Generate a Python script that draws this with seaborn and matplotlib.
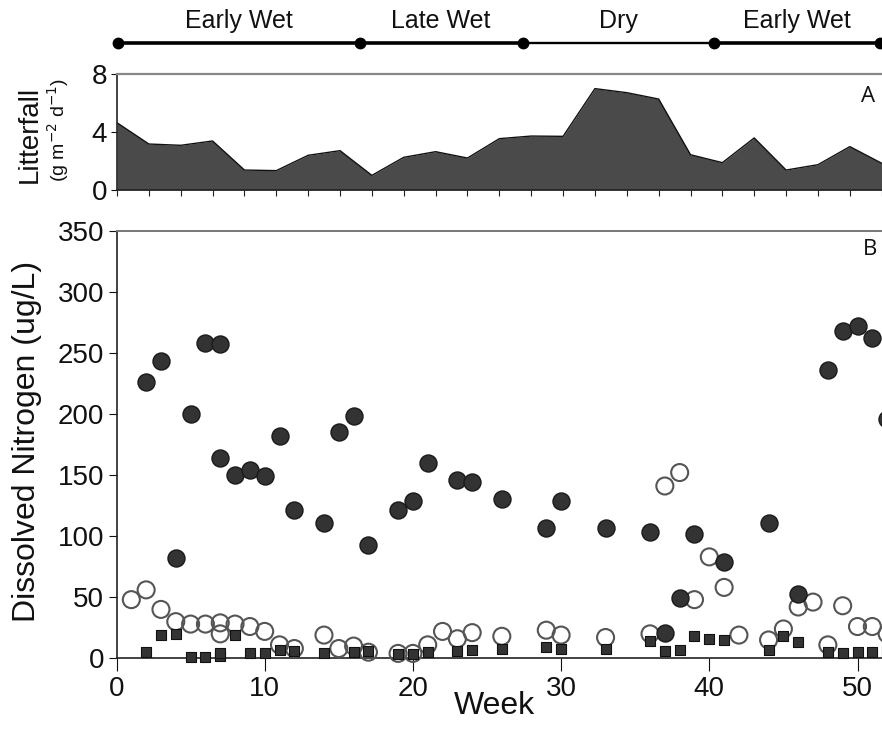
import numpy as np
import pandas as pd
import matplotlib
matplotlib.use("Agg")
import matplotlib.pyplot as plt
import seaborn as sns

sns.set_theme(style="white")
plt.rcParams['font.family'] = ['Liberation Sans', 'DejaVu Sans']

# ---------------- data ----------------
season_names = ["Early Wet", "Late Wet", "Dry", "Early Wet"]
season_bounds = [0.1, 16.4, 27.4, 40.3, 51.5]

litterfall = [4.65, 3.18, 3.09, 3.39, 1.38, 1.34, 2.40, 2.72, 1.01, 2.26, 2.65, 2.21,
              3.55, 3.73, 3.71, 7.01, 6.73, 6.29, 2.44, 1.89, 3.60, 1.38, 1.75, 3.00, 1.85]
litter_sample = list(range(len(litterfall)))

weeks_dark = [2, 3, 4, 5, 6, 7, 7, 8, 9, 10, 11, 12, 14, 15, 16, 17, 19, 20, 21, 23,
              24, 26, 29, 30, 33, 36, 37, 38, 39, 41, 44, 46, 48, 49, 50, 51, 52]
n_dark = [226, 243, 82, 200, 258, 257, 164, 150, 154, 149, 182, 121, 111, 185, 198, 93,
          121, 129, 160, 146, 144, 130, 107, 129, 107, 103, 21, 49, 102, 79, 111, 53,
          236, 268, 272, 262, 196]

weeks_open = [1, 2, 3, 4, 5, 6, 7, 7, 8, 9, 10, 11, 12, 14, 15, 16, 17, 19, 20, 21,
              22, 23, 24, 26, 29, 30, 33, 36, 37, 38, 39, 40, 41, 42, 44, 45, 46, 47,
              48, 49, 50, 51, 52]
n_open = [48, 56, 40, 30, 28, 28, 29, 20, 28, 26, 22, 11, 8, 19, 8, 10, 5, 4, 4, 11,
          22, 16, 21, 18, 23, 19, 17, 20, 141, 152, 48, 83, 58, 19, 15, 24, 42, 46,
          11, 43, 26, 26, 20]

weeks_sq = [2, 3, 4, 5, 6, 7, 7, 8, 9, 10, 11, 12, 14, 16, 17, 19, 20, 21, 23, 24,
            26, 29, 30, 33, 36, 37, 38, 39, 40, 41, 44, 45, 46, 48, 49, 50, 51, 52]
n_sq = [5, 19, 20, 1.3, 1.3, 2, 4, 19, 4, 4, 7, 6, 4, 5, 6, 3.5, 3.5, 5, 6, 7,
        8, 9, 8, 8, 14, 6, 7, 18, 16, 15, 6.5, 18, 13, 5, 4, 5, 5, 6]

# ---------------- layout ----------------
W, H = 882, 747
fig = plt.figure(figsize=(W / 100, H / 100), dpi=100)
fig.patch.set_facecolor("white")


def rect(l, t, r, b):
    return [l / W, 1 - b / H, (r - l) / W, (b - t) / H]


XMAX_B = (882 - 116.5) / 14.82

axS = fig.add_axes(rect(116.5, 0, 882, 60))
axA = fig.add_axes(rect(117, 74.3, 882, 190))
axB = fig.add_axes(rect(116.5, 230.6, 882, 658.3))

# ---------------- season bar ----------------
axS.set_xlim(0, XMAX_B)
axS.set_ylim(60, 0)
axS.axis("off")
for i, name in enumerate(season_names):
    x0, x1 = season_bounds[i], season_bounds[i + 1]
    lw = 1.7 if name == "Dry" else 2.6
    axS.plot([x0, x1], [43, 43], color="black", lw=lw, solid_capstyle="butt",
             clip_on=False)
    axS.text((x0 + x1) / 2, 21, name, ha="center", va="center", fontsize=18,
             color="#111111")
axS.plot(season_bounds, [43] * len(season_bounds), "o", color="black", ms=7.5,
         clip_on=False)

# ---------------- panel A ----------------
dfA = pd.DataFrame({"sample": litter_sample, "litterfall": litterfall})
axA.fill_between(dfA["sample"], 0, dfA["litterfall"], color="#4a4a4a", lw=0)
sns.lineplot(data=dfA, x="sample", y="litterfall", ax=axA, color="#111111", lw=1.0)
axA.set_xlim(0, 24.01)
axA.set_ylim(0, 8)
axA.set_xticks(litter_sample)
axA.set_xticklabels([])
axA.set_yticks([0, 4, 8])
axA.set_xlabel("")
axA.set_ylabel("")
axA.tick_params(axis="x", direction="out", length=4, width=0.8, color="#222222",
                bottom=True)
axA.tick_params(axis="y", direction="out", length=4, width=0.8, labelsize=20,
                pad=3, left=True, colors="#111111")
for s in ["left", "bottom"]:
    axA.spines[s].set_color("#222222")
    axA.spines[s].set_linewidth(1.2)
axA.spines["top"].set_color("#888888")
axA.spines["top"].set_linewidth(1.6)
axA.spines["right"].set_visible(False)

fig.text(30 / W, 1 - 134 / H, "Litterfall", rotation=90, ha="center", va="center",
         fontsize=20, color="#111111")
fig.text(58 / W, 1 - 130 / H, r"(g m$^{-2}$ d$^{-1}$)", rotation=90, ha="center",
         va="center", fontsize=14, color="#111111")
fig.text(868 / W, 1 - 97 / H, "A", ha="center", va="center", fontsize=16,
         family="Open Sans", color="#111111")

# ---------------- panel B ----------------
dfO = pd.DataFrame({"week": weeks_open, "N": n_open})
dfD = pd.DataFrame({"week": weeks_dark, "N": n_dark})
dfQ = pd.DataFrame({"week": weeks_sq, "N": n_sq})

sns.scatterplot(data=dfO, x="week", y="N", ax=axB, marker="o", s=150,
                facecolor="none", edgecolor="#555555", linewidth=1.5,
                clip_on=False, zorder=3)
sns.scatterplot(data=dfD, x="week", y="N", ax=axB, marker="o", s=150,
                color="#333333", edgecolor="#1a1a1a", linewidth=1.0,
                clip_on=False, zorder=4)
sns.scatterplot(data=dfQ, x="week", y="N", ax=axB, marker="s", s=45,
                color="#333333", edgecolor="#111111", linewidth=0.8,
                clip_on=False, zorder=5)

axB.set_xlim(0, XMAX_B)
axB.set_ylim(0, 350)
axB.set_xticks([0, 10, 20, 30, 40, 50])
axB.set_yticks(np.arange(0, 351, 50))
axB.set_xlabel("")
axB.set_ylabel("")
axB.tick_params(axis="x", direction="out", length=9, width=0.8, labelsize=20,
                pad=4, bottom=True, colors="#111111")
axB.tick_params(axis="y", direction="out", length=6, width=0.8, labelsize=20,
                pad=3, left=True, colors="#111111")
for s in ["left", "bottom"]:
    axB.spines[s].set_color("#222222")
    axB.spines[s].set_linewidth(1.2)
axB.spines["top"].set_color("#777777")
axB.spines["top"].set_linewidth(1.4)
axB.spines["right"].set_visible(False)

fig.text(27 / W, 1 - 441 / H, "Dissolved Nitrogen (ug/L)", rotation=90, ha="center",
         va="center", fontsize=23, color="#111111")
fig.text(494 / W, 1 - 706 / H, "Week", ha="center", va="center", fontsize=23,
         color="#111111")
fig.text(870 / W, 1 - 250 / H, "B", ha="center", va="center", fontsize=16,
         family="Open Sans", color="#111111")

fig.savefig("out.png", dpi=100, facecolor="white")
